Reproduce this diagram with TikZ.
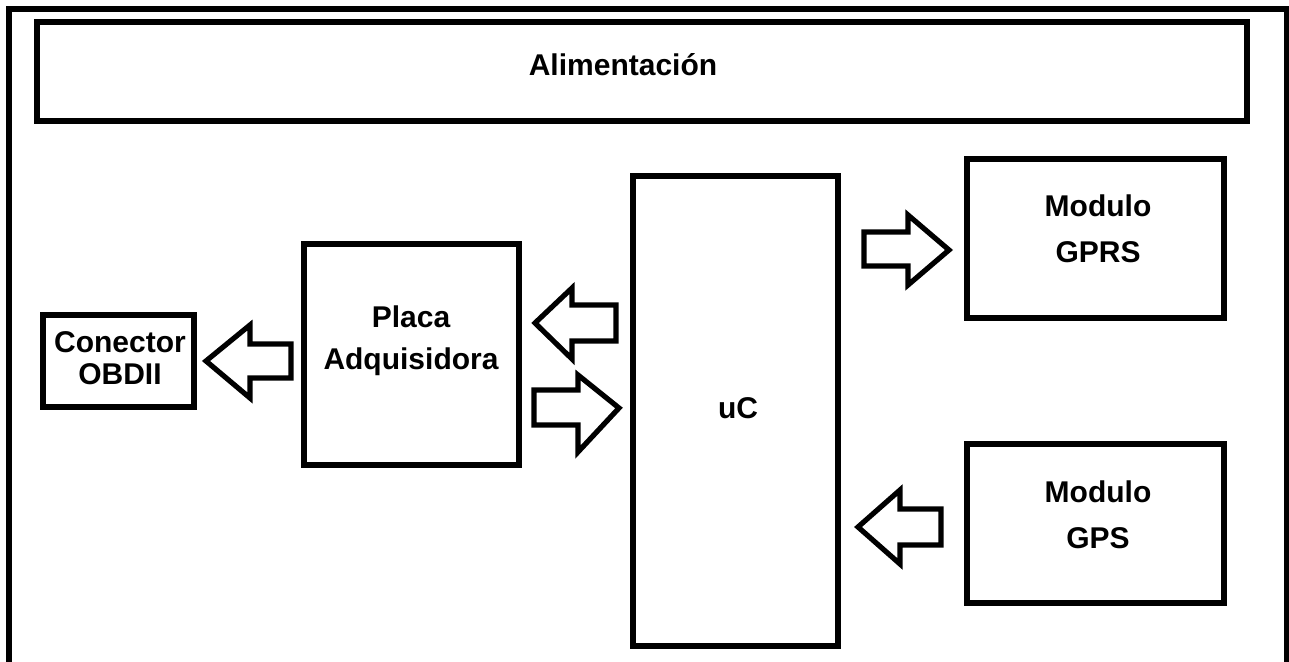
\documentclass[tikz,border=0pt]{standalone}
\usepackage{fontspec}
\setmainfont{Liberation Sans}
\begin{document}
\begin{tikzpicture}[x=0.5pt,y=-0.5pt,
  blk/.style={draw=black,line width=3pt,fill=white},
  barrow/.style={draw=black,line width=2.6pt,fill=white,line join=miter},
  lbl/.style={anchor=base,inner sep=0pt,font=\bfseries\fontsize{15}{18}\selectfont}]
\useasboundingbox (0,0) rectangle (1289,662);
\clip (0,0) rectangle (1289,662);
\fill[white] (0,0) rectangle (1289,662);
% outer frame
\draw[line width=3pt] (9,670) -- (9,9) -- (1287,9) -- (1287,670);
% boxes
\draw[blk] (37,22) rectangle (1247,121);
\draw[blk] (43,315) rectangle (194,407);
\draw[blk] (304,244) rectangle (519,465);
\draw[blk] (633,176) rectangle (838,646);
\draw[blk] (967,159) rectangle (1224,318);
\draw[blk] (967,444) rectangle (1224,603);
% labels
\node[lbl] (talim) at (623,76) {Alimentación};
\node[lbl] (tcon1) at (120,352) {Conector};
\node[lbl] (tcon2) at (120,385) {OBDII};
\node[lbl] (tpla1) at (411,328) {Placa};
\node[lbl] (tpla2) at (411,370) {Adquisidora};
\node[lbl] (tuc) at (738,418) {uC};
\node[lbl] (tgprs1) at (1098,217) {Modulo};
\node[lbl] (tgprs2) at (1098,263) {GPRS};
\node[lbl] (tgps1) at (1098,502) {Modulo};
\node[lbl] (tgps2) at (1098,548) {GPS};
% block arrows
\draw[barrow] (206,361) -- (250,325) -- (250,344) -- (291,344) -- (291,378) -- (250,378) -- (250,398) -- cycle;
\draw[barrow] (535,323) -- (572,288) -- (572,305) -- (616,305) -- (616,341) -- (572,341) -- (572,359) -- cycle;
\draw[barrow] (619,408) -- (578,375) -- (578,390) -- (534,390) -- (534,425) -- (578,425) -- (578,452) -- cycle;
\draw[barrow] (949,250) -- (908,215) -- (908,232) -- (864,232) -- (864,266) -- (908,266) -- (908,285) -- cycle;
\draw[barrow] (858,527) -- (900,490) -- (900,509) -- (941,509) -- (941,545) -- (900,545) -- (900,564) -- cycle;
\end{tikzpicture}
\end{document}
